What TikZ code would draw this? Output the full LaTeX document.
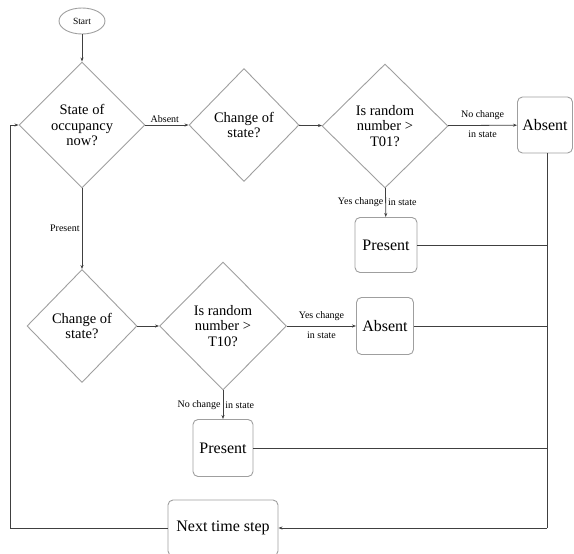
\documentclass[tikz,border=0pt]{standalone}
\usepackage{fontspec}
\setmainfont{Liberation Serif}
\usetikzlibrary{shapes.geometric,arrows.meta}

\begin{document}
\begin{tikzpicture}[x=1pt, y=-1pt, >={Stealth[length=4pt,width=3pt]}]
  \tikzset{
    dec_node/.style={diamond, draw=gray!75, line width=0.9pt, inner sep=0pt, align=center, font=\fontsize{14.5}{15.5}\selectfont},
    box_node/.style={rectangle, rounded corners=5pt, draw=gray!75, line width=0.9pt, align=center, inner sep=2pt, font=\fontsize{16}{18}\selectfont},
    lbl/.style={font=\fontsize{10}{11}\selectfont, inner sep=2pt},
    link/.style={draw=black!75, line width=0.8pt}
  }

  % Marco de la figura
  \useasboundingbox (0,0) rectangle (574,554);

  % Inicio
  \node[ellipse, draw=gray!75, line width=0.9pt, minimum width=46pt, minimum height=26pt, inner sep=0pt, font=\fontsize{9.5}{10}\selectfont] (start) at (82,21) {Start};

  % Rombos de decision
  \node[dec_node, minimum width=126pt, minimum height=126pt] (occ) at (82,125) {State of\\occupancy\\now?};
  \node[dec_node, minimum width=110pt, minimum height=113pt] (chg1) at (244,125) {Change of\\state?};
  \node[dec_node, minimum width=126pt, minimum height=124pt] (rnd1) at (385,126) {Is random\\number >\\T01?};
  \node[dec_node, minimum width=110pt, minimum height=113pt] (chg2) at (82,326) {Change of\\state?};
  \node[dec_node, minimum width=127pt, minimum height=128pt] (rnd2) at (223,326) {Is random\\number >\\T10?};

  % Cajas de estado
  \node[box_node, minimum width=55pt, minimum height=56pt] (abs1) at (545,125) {Absent};
  \node[box_node, minimum width=62pt, minimum height=55pt] (pres1) at (386,245) {Present};
  \node[box_node, minimum width=57pt, minimum height=57pt] (abs2) at (385,326) {Absent};
  \node[box_node, minimum width=60pt, minimum height=57pt] (pres2) at (223,448) {Present};
  \node[box_node, minimum width=110pt, minimum height=56pt] (next) at (223,528) {Next time step};

  % Puntos auxiliares
  \coordinate (bus) at (547,528);
  \coordinate (back) at (10,528);
  \coordinate (backtop) at (10,125);

  % Flechas principales
  \draw[link, ->] (start) -- (occ);
  \draw[link, ->] (occ) -- node[lbl, above, pos=0.45] {Absent} (chg1);
  \draw[link, ->] (occ) -- node[lbl, left, pos=0.5] {Present} (chg2);
  \draw[link, ->] (chg1) -- (rnd1);
  \draw[link, ->] (chg2) -- (rnd2);

  % Salidas de T01
  \draw[link, ->] (rnd1) -- node[lbl, above, yshift=3pt] {No change} node[lbl, below, yshift=-3pt] {in state} (abs1);
  \draw[link, ->] (rnd1) -- node[lbl, left] {Yes change} node[lbl, right] {in state} (pres1);

  % Salidas de T10
  \draw[link, ->] (rnd2) -- node[lbl, above, yshift=3pt] {Yes change} node[lbl, below, yshift=-3pt] {in state} (abs2);
  \draw[link, ->] (rnd2) -- node[lbl, left] {No change} node[lbl, right] {in state} (pres2);

  % Retorno al siguiente paso
  \draw[link] (abs1.south -| bus) -- (bus);
  \draw[link] (pres1) -- (pres1 -| bus);
  \draw[link] (abs2) -- (abs2 -| bus);
  \draw[link] (pres2) -- (pres2 -| bus);
  \draw[link, ->] (bus) -- (next);
  \draw[link, ->] (next) -- (back) -- (backtop) -- (occ);
\end{tikzpicture}
\end{document}
